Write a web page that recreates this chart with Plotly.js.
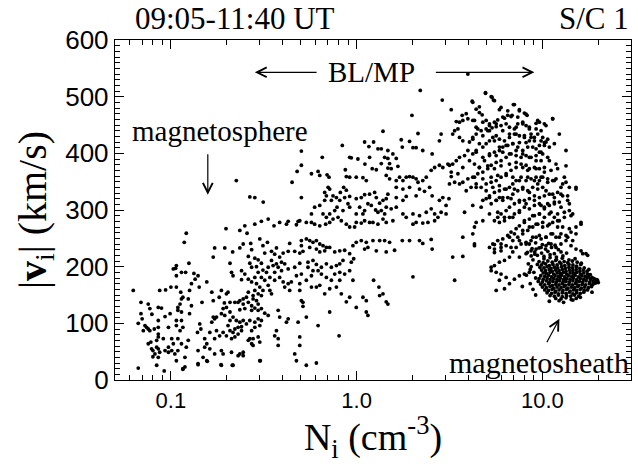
<!DOCTYPE html>
<html>
<head>
<meta charset="utf-8">
<script src="https://cdn.plot.ly/plotly-3.0.1.min.js"></script>
<style>html,body{margin:0;padding:0;background:#fff;}#chart{width:638px;height:464px;}</style>
</head>
<body>
<div id="chart"></div>
<script>
// Ion density N_i (cm^-3) and ion speed |v_i| (km/s)
// Low-density (magnetosphere side) points
const lowDensityPoints = [
[0.198,267],[0.250,272],[0.283,275],[0.307,280],[0.385,278],[0.419,275],[0.428,280],[0.474,274],[0.484,280],[0.359,272],[0.235,264],[0.257,259],[0.121,259],[0.118,243],[0.172,233],[0.195,233],[0.215,226],[0.235,233],[0.245,240],[0.269,241],[0.301,249],[0.313,237],[0.331,243],[0.370,233],[0.436,241],[0.504,246],[0.504,237],[0.428,227],[0.464,227],[0.494,224],[0.514,227],[0.272,230],[0.169,217],[0.208,206],[0.261,218],[0.283,215],[0.295,212],[0.307,206],[0.320,224],[0.348,227],[0.362,222],[0.385,217],[0.394,208],[0.402,224],[0.410,205],[0.348,211],[0.355,202],[0.370,205],[0.378,199],[0.334,199],[0.327,190],[0.313,194],[0.289,200],[0.266,206],[0.272,199],[0.295,190],[0.362,190],[0.394,193],[0.428,196],[0.464,199],[0.494,206],[0.504,187],[0.474,184],[0.445,173],[0.494,170],[0.362,176],[0.385,181],[0.341,181],[0.307,181],[0.320,176],[0.283,181],[0.261,178],[0.250,187],[0.240,177],[0.216,184],[0.212,190],[0.240,193],[0.272,173],[0.289,170],[0.301,164],[0.313,158],[0.334,167],[0.341,158],[0.348,152],[0.402,173],[0.410,164],[0.428,170],[0.436,158],[0.494,158],[0.504,140],[0.514,137],[0.514,130],[0.283,158],[0.261,155],[0.255,146],[0.245,143],[0.235,140],[0.230,137],[0.245,134],[0.261,137],[0.277,143],[0.289,140],[0.295,134],[0.307,149],[0.295,152],[0.277,149],[0.272,131],[0.283,127],[0.295,123],[0.307,126],[0.320,118],[0.334,114],[0.272,123],[0.250,126],[0.235,124],[0.221,137],[0.208,137],[0.203,155],[0.187,158],[0.182,146],[0.199,152],[0.194,136],[0.199,128],[0.191,126],[0.187,117],[0.195,114],[0.208,120],[0.216,111],[0.208,105],[0.203,96],[0.208,87],[0.216,84],[0.221,90],[0.230,93],[0.240,94],[0.235,102],[0.225,105],[0.245,105],[0.255,99],[0.266,105],[0.283,102],[0.295,108],[0.307,105],[0.301,96],[0.283,93],[0.272,87],[0.240,87],[0.230,81],[0.221,76],[0.212,73],[0.199,78],[0.191,84],[0.183,78],[0.176,87],[0.172,73],[0.169,111],[0.172,108],[0.166,102],[0.162,84],[0.152,73],[0.143,99],[0.145,90],[0.147,137],[0.142,164],[0.124,143],[0.129,131],[0.126,117],[0.156,173],[0.166,155],[0.169,140],[0.176,111],[0.378,123],[0.385,111],[0.370,87],[0.362,78],[0.378,73],[0.378,61],[0.428,108],[0.419,102],[0.484,102],[0.494,76],[0.494,61],[0.464,46],[0.474,34],[0.301,34],[0.266,73],[0.277,73],[0.295,76],[0.301,67],[0.277,61],[0.272,64],[0.261,70],[0.245,49],[0.235,46],[0.230,43],[0.245,43],[0.212,49],[0.187,52],[0.191,46],[0.187,26],[0.216,26],[0.172,46],[0.162,55],[0.156,64],[0.152,58],[0.149,40],[0.156,34],[0.140,29],[0.139,84],[0.140,52],[0.119,23],[0.116,20],[0.119,40],[0.121,58],[0.124,70],[0.114,64],[0.109,73],[0.109,52],[0.105,46],[0.101,52],[0.103,64],[0.101,73],[0.097,58],[0.097,49],[0.107,34],[0.093,52],[0.091,73],[0.0855,76],[0.0838,70],[0.078,67],[0.0755,64],[0.0787,55],[0.080,52],[0.082,46],[0.080,41],[0.0855,40],[0.087,49],[0.0838,58],[0.0855,55],[0.0755,90],[0.077,87],[0.074,93],[0.0725,96],[0.071,87],[0.0667,100],[0.070,108],[0.069,117],[0.0755,134],[0.077,126],[0.079,116],[0.0855,128],[0.089,127],[0.0855,105],[0.0855,93],[0.0855,81],[0.0814,90],[0.093,112],[0.097,93],[0.099,117],[0.107,105],[0.107,96],[0.112,87],[0.116,93],[0.114,105],[0.114,120],[0.112,134],[0.114,143],[0.113,155],[0.109,123],[0.107,164],[0.109,128],[0.116,146],[0.126,158],[0.129,170],[0.135,178],[0.133,188],[0.140,184],[0.125,206],[0.114,190],[0.120,190],[0.106,197],[0.107,202],[0.103,196],[0.107,184],[0.0936,159],[0.087,158],[0.100,164],[0.069,137],[0.0627,158],[0.0667,21],[0.0838,26],[0.092,16],[0.116,19],[0.140,27],[0.157,33],[0.186,27],[0.214,26],[0.303,34],[0.225,352],[0.266,323]
];
// Boundary layer / magnetopause, 0.3 - 3 cm^-3
const boundaryLayerPoints = [
[2.20,511],[2.89,494],[1.985,467],[1.386,439],[2.14,435],[2.85,434],[2.79,422],[2.01,410],[2.09,410],[2.27,405],[2.55,399],[0.837,414],[1.104,420],[1.164,412],[1.234,420],[1.302,408],[1.357,408],[1.473,405],[1.567,399],[1.738,424],[1.761,411],[1.927,421],[1.634,391],[1.415,393],[1.473,391],[1.504,382],[1.357,382],[1.174,393],[1.108,381],[1.016,390],[0.936,392],[0.917,393],[0.653,393],[0.504,404],[0.504,379],[0.478,368],[0.449,349],[0.620,368],[0.571,364],[0.633,361],[0.693,362],[0.710,358],[0.869,371],[0.880,359],[0.917,358],[0.995,358],[1.081,357],[1.127,352],[1.213,373],[1.276,371],[1.473,374],[1.535,373],[1.668,377],[1.443,361],[1.504,355],[1.634,352],[1.703,358],[1.775,352],[1.849,358],[1.927,359],[2.01,358],[2.09,355],[2.14,349],[2.27,352],[2.37,358],[2.52,370],[2.63,375],[2.79,379],[2.91,375],[3.10,381],[1.634,340],[1.775,337],[1.927,340],[2.18,337],[2.32,333],[2.47,340],[2.55,325],[2.79,317],[2.91,322],[3.14,320],[2.09,325],[1.849,324],[1.775,317],[1.634,322],[1.473,328],[1.443,320],[1.386,317],[1.330,312],[1.276,322],[1.250,331],[1.174,328],[1.104,327],[1.059,322],[0.995,320],[0.917,324],[0.880,335],[0.851,340],[0.817,331],[0.778,322],[0.746,325],[0.716,337],[0.702,340],[0.673,331],[0.687,325],[0.731,317],[0.811,317],[0.862,322],[0.673,317],[0.633,308],[0.594,305],[0.571,293],[0.659,293],[0.687,287],[0.716,293],[0.762,299],[0.784,305],[0.844,299],[0.898,311],[0.917,305],[0.995,293],[1.038,305],[1.081,293],[1.104,299],[1.150,311],[1.199,308],[1.265,300],[1.302,296],[1.357,299],[1.415,293],[1.443,305],[1.535,302],[1.634,305],[1.775,293],[1.849,287],[2.01,293],[2.18,290],[2.37,296],[2.52,302],[2.63,293],[2.85,296],[3.03,308],[3.03,293],[2.01,275],[2.09,278],[2.27,277],[2.42,278],[2.63,281],[2.74,287],[1.567,281],[1.443,278],[1.386,284],[1.302,275],[1.224,278],[1.174,278],[1.104,281],[1.059,277],[0.995,278],[0.975,270],[0.917,270],[0.880,275],[0.827,281],[0.794,287],[0.746,284],[0.716,278],[0.681,275],[0.633,272],[0.594,275],[0.571,278],[0.536,278],[0.494,281],[0.334,284],[0.314,314],[0.283,322],[0.504,322],[0.536,249],[0.559,246],[0.582,243],[0.607,246],[0.633,240],[0.659,237],[0.687,234],[0.716,234],[0.673,228],[0.633,226],[0.607,231],[0.559,234],[0.762,226],[0.811,228],[0.862,229],[0.917,223],[0.955,237],[0.995,243],[1.059,246],[1.127,243],[1.224,246],[1.330,246],[1.415,246],[1.504,243],[1.600,229],[1.443,226],[1.276,228],[1.150,234],[1.104,231],[0.964,214],[0.936,208],[0.844,211],[0.811,205],[0.778,202],[0.731,199],[0.687,205],[0.646,199],[0.607,204],[0.582,211],[0.547,208],[0.547,199],[0.582,193],[0.620,193],[0.646,187],[0.687,181],[0.731,176],[0.762,187],[0.811,190],[0.862,187],[0.917,193],[0.955,176],[0.811,176],[0.778,164],[0.716,161],[0.673,152],[0.633,167],[0.607,164],[0.571,164],[0.536,176],[0.571,184],[0.536,111],[0.536,26],[0.607,30],[0.620,96],[0.716,120],[0.804,78],[0.827,152],[0.880,138],[0.917,146],[0.995,128],[1.081,146],[1.127,140],[1.127,120],[1.150,114],[1.234,176],[1.318,164],[1.330,149],[1.386,152],[1.443,138],[1.473,134],[2.01,182],[2.18,246],[2.27,241],[2.55,231],[2.52,248],[1.927,246],[1.761,246]
];
// High-density side, 3 - 18 cm^-3
const highDensityPoints = [
[3.97,540],[4.94,507],[5.30,500],[5.45,494],[4.19,492],[3.23,477],[3.70,467],[3.89,470],[4.40,478],[4.58,472],[4.74,468],[5.87,477],[6.51,475],[6.98,486],[7.52,475],[8.00,471],[8.27,467],[7.37,464],[6.78,465],[6.25,462],[5.75,459],[5.52,455],[5.19,452],[4.98,458],[4.78,455],[4.22,458],[3.97,461],[3.73,458],[3.58,455],[3.44,456],[3.51,443],[3.37,440],[3.29,434],[3.58,428],[3.73,422],[4.05,420],[4.22,428],[4.40,434],[4.49,443],[4.68,440],[4.98,443],[5.19,440],[5.36,445],[5.64,447],[5.99,449],[6.38,452],[6.65,446],[7.07,443],[7.37,452],[7.84,455],[8.17,449],[8.51,443],[9.25,453],[9.64,455],[10.25,452],[11.36,461],[8.69,434],[9.06,428],[9.44,434],[9.84,422],[10.25,414],[10.46,420],[10.68,425],[10.04,428],[8.51,422],[8.00,428],[7.52,431],[7.07,434],[6.65,428],[6.25,422],[5.87,425],[5.64,431],[5.41,428],[5.19,422],[4.98,417],[4.78,411],[4.58,417],[4.40,405],[4.22,399],[3.97,405],[3.81,396],[3.58,393],[3.44,387],[3.29,381],[3.16,379],[3.23,367],[3.51,364],[3.73,375],[4.05,387],[4.31,381],[4.58,375],[4.88,387],[5.19,396],[5.52,402],[5.87,405],[6.12,411],[6.51,414],[6.93,417],[7.37,411],[7.84,405],[8.34,411],[8.87,411],[9.25,408],[9.64,402],[10.04,399],[10.68,393],[9.84,387],[9.25,387],[8.69,393],[8.17,396],[7.68,393],[7.22,396],[6.78,399],[6.38,393],[5.99,387],[5.64,384],[5.30,379],[5.08,373],[4.78,367],[4.49,364],[4.22,358],[3.97,355],[3.73,349],[3.58,346],[3.37,349],[3.16,346],[3.23,359],[3.89,334],[4.13,340],[4.40,346],[4.68,340],[4.98,346],[5.30,349],[5.64,352],[5.99,358],[6.38,364],[6.78,370],[7.22,375],[7.68,381],[8.17,379],[8.51,373],[9.06,375],[9.64,373],[10.25,367],[10.04,358],[9.64,352],[9.25,358],[8.69,355],[8.17,352],[7.68,358],[7.22,352],[6.93,346],[6.65,340],[6.25,337],[5.87,334],[5.52,331],[5.19,325],[4.98,320],[4.78,317],[5.30,311],[5.64,317],[5.87,322],[6.12,317],[6.51,322],[6.93,328],[7.37,334],[7.84,337],[8.34,334],[8.87,340],[9.44,346],[10.04,340],[10.68,349],[11.36,352],[11.84,355],[13.13,358],[13.40,349],[12.59,340],[12.08,331],[11.60,322],[10.90,328],[10.25,325],[9.64,322],[9.06,325],[8.51,320],[8.00,317],[7.52,314],[7.07,311],[6.65,305],[6.38,299],[5.99,293],[5.75,287],[5.52,281],[5.87,278],[6.25,281],[6.65,287],[7.07,293],[7.52,299],[8.00,305],[8.51,302],[9.06,308],[9.64,311],[10.25,305],[10.90,308],[11.60,311],[12.34,314],[12.86,325],[13.68,317],[15.17,340],[16.14,278],[14.56,293],[13.97,299],[13.13,287],[12.34,281],[11.60,287],[10.90,293],[10.25,287],[9.64,293],[9.06,290],[8.51,284],[8.00,278],[7.52,272],[7.22,267],[6.78,261],[6.51,255],[6.12,249],[5.75,246],[5.41,240],[5.19,234],[5.52,231],[5.99,234],[6.38,237],[6.93,246],[7.37,252],[7.84,258],[8.34,264],[8.87,270],[9.44,275],[10.04,270],[10.68,272],[11.36,278],[12.08,270],[12.59,258],[11.84,252],[11.13,258],[10.46,252],[9.84,249],[9.25,252],[8.69,246],[8.17,243],[7.68,240],[7.22,234],[6.93,226],[6.65,217],[6.25,211],[5.87,208],[5.52,202],[5.30,193],[5.64,190],[5.99,187],[6.38,181],[5.87,176],[6.25,161],[6.65,170],[7.07,178],[7.52,184],[8.00,187],[8.51,190],[7.52,217],[8.17,223],[8.69,228],[9.25,231],[9.84,234],[10.46,237],[11.13,240],[11.84,234],[12.59,240],[13.40,246],[14.26,237],[15.17,231],[16.14,228],[17.17,223],[13.68,252],[14.26,261],[15.17,270],[3.29,217],[3.73,218],[3.37,176],[3.81,296],[4.40,278],[4.22,258],[3.73,252],[4.31,240],[5.30,199],[5.64,158]
];
// Further high-density points read from a closer view (4 - 17 cm^-3, 220 - 510 km/s)
const highDensityExtraPoints = [
[4.94,506],[5.36,499],[5.52,493],[4.22,490],[4.58,482],[5.99,481],[7.07,486],[7.52,477],[6.51,467],[6.87,467],[6.12,464],[8.17,469],[9.44,458],[11.36,461],[7.84,452],[7.22,446],[8.51,446],[9.25,443],[4.31,458],[4.40,446],[5.19,449],[5.64,452],[5.08,440],[6.12,440],[6.65,434],[7.22,434],[8.00,431],[8.69,428],[9.84,440],[10.46,449],[12.34,434],[4.22,425],[4.78,431],[5.52,422],[5.87,411],[6.38,414],[6.93,417],[7.52,419],[8.17,419],[9.06,422],[9.64,414],[10.25,419],[10.90,411],[11.60,417],[13.40,405],[4.40,402],[4.78,393],[5.19,399],[5.64,396],[6.12,402],[6.65,399],[7.22,405],[7.84,399],[8.51,393],[9.25,396],[9.84,402],[10.90,387],[11.84,381],[4.58,375],[5.08,378],[5.52,373],[5.99,378],[6.65,381],[7.22,384],[7.84,375],[8.34,370],[9.25,373],[10.25,375],[11.13,370],[12.08,373],[13.40,378],[4.31,358],[4.78,355],[5.30,358],[5.75,361],[6.38,361],[6.93,358],[7.52,352],[8.34,358],[9.06,352],[9.84,358],[10.68,355],[11.60,352],[12.86,346],[13.97,340],[15.17,337],[4.40,340],[4.98,334],[5.41,340],[5.87,343],[6.38,337],[7.07,337],[7.84,340],[8.51,331],[9.44,337],[10.46,334],[11.36,328],[12.60,328],[13.68,325],[4.22,308],[4.68,305],[5.19,322],[5.64,317],[6.12,322],[6.78,320],[7.52,317],[8.17,311],[9.06,317],[9.84,308],[10.68,311],[11.60,314],[12.60,305],[13.97,311],[4.31,270],[4.78,281],[5.19,293],[5.75,296],[6.25,287],[6.93,287],[7.52,296],[8.00,281],[8.87,290],[9.64,293],[10.25,302],[11.13,296],[12.08,293],[13.13,296],[14.26,290],[16.14,275],[4.31,237],[5.52,239],[5.99,240],[6.65,252],[7.07,258],[7.84,264],[8.51,270],[9.25,275],[10.04,278],[10.90,275],[12.08,281],[12.86,270],[13.97,267],[15.17,258],[5.52,225],[5.99,228],[6.78,234],[7.52,246],[8.17,240],[8.87,252],[9.64,255],[10.46,252],[11.36,258],[12.34,252],[13.40,255],[14.56,246],[16.48,223],[17.53,220]
];
// Magnetosheath cluster, ~9 - 20 cm^-3, 140 - 240 km/s
const sheathPoints = [
[8.5,240],[9.2,242],[10.0,239],[10.8,241],[11.7,238],[8.8,232],[9.6,233],[10.4,231],[11.2,234],[12.2,230],[8.3,225],[9.1,226],[9.9,224],[10.7,227],[11.6,223],[12.6,226],[13.5,224],[8.7,219],[9.4,220],[10.2,218],[11.0,221],[11.9,217],[12.9,219],
[10.2,214],[11.0,216],[11.9,213],[12.8,215],[13.9,212],[15.0,214],
[9.6,209],[10.1,207],[10.7,210],[11.3,208],[11.8,211],[12.4,208],[13.1,209],[13.7,207],[14.5,210],[15.4,208],[16.2,206],
[9.4,204],[9.9,203],[10.4,205],[10.9,202],[11.4,204],[12.0,203],[12.6,205],[13.2,202],[13.9,204],[14.6,203],[15.3,201],[16.1,204],
[9.7,199],[10.2,198],[10.6,200],[11.1,197],[11.6,199],[12.1,198],[12.7,200],[13.3,197],[13.9,199],[14.5,198],[15.2,200],[15.9,197],[16.8,198],
[9.9,194],[10.4,193],[10.9,195],[11.3,192],[11.8,194],[12.3,193],[12.8,195],[13.4,192],[14.0,194],[14.6,193],[15.2,195],[15.9,192],[16.6,194],[17.4,192],
[10.1,189],[10.5,188],[11.0,190],[11.5,187],[12.0,189],[12.5,188],[13.0,190],[13.5,187],[14.1,189],[14.7,188],[15.3,190],[16.0,187],[16.7,189],[17.5,187],[18.1,186],
[9.8,184],[10.3,183],[10.8,185],[11.2,182],[11.7,184],[12.2,183],[12.7,185],[13.2,182],[13.8,184],[14.4,183],[15.0,185],[15.6,182],[16.3,184],[17.0,183],[17.7,182],[18.5,181],
[9.6,179],[10.1,178],[10.6,180],[11.0,177],[11.5,179],[12.0,178],[12.5,180],[13.0,177],[13.5,179],[14.1,178],[14.7,180],[15.3,177],[16.0,179],[16.7,178],[17.4,180],[18.2,178],[19.0,179],[19.6,177],
[9.5,174],[10.0,173],[10.5,175],[10.9,172],[11.4,174],[11.9,173],[12.4,175],[12.9,172],[13.4,174],[14.0,173],[14.6,175],[15.2,172],[15.8,174],[16.5,173],[17.2,175],[18.0,173],[18.8,174],[19.6,173],
[9.8,169],[10.3,168],[10.8,170],[11.3,167],[11.8,169],[12.3,168],[12.8,170],[13.3,167],[13.9,169],[14.5,168],[15.1,170],[15.7,167],[16.4,169],[17.1,168],[17.9,170],[18.7,169],[19.3,171],
[10.0,164],[10.5,163],[11.0,165],[11.5,162],[12.0,164],[12.6,163],[13.1,165],[13.7,162],[14.3,164],[14.9,163],[15.5,165],[16.2,162],[16.9,164],[17.7,163],[18.4,165],
[10.3,159],[10.8,158],[11.3,160],[11.8,157],[12.3,159],[12.9,158],[13.5,160],[14.1,157],[14.7,159],[15.3,158],[16.0,160],[16.8,158],[17.5,159],
[10.6,154],[11.2,153],[11.7,155],[12.2,152],[12.8,154],[13.4,153],[14.0,155],[14.6,152],[15.3,154],[16.0,153],[16.7,155],
[11.0,149],[11.6,148],[12.2,150],[12.8,147],[13.5,149],[14.2,148],[14.9,150],[15.7,148],
[11.8,144],[12.6,143],[13.4,145],[14.3,142],[15.2,144],
[10.9,139],[12.3,140],[14.6,141],[16.0,146],[8.9,160],[8.6,170],[9.2,150],[7.8,165],[8.2,185],[18.5,155],[19.8,176],[20.0,172],[13.0,137],[17.8,195],[9.0,190],[8.7,200],[8.4,205],[8.9,212],[9.1,222],[8.6,195],[9.2,180]
];

const xTickVals = [0.1, 1, 10];
const xTickText = ['0.1', '1.0', '10.0'];
const xMinorVals = [0.06,0.07,0.08,0.09,0.2,0.3,0.4,0.5,0.6,0.7,0.8,0.9,2,3,4,5,6,7,8,9,20];
const yTickVals = [0, 100, 200, 300, 400, 500, 600];

const groups = [lowDensityPoints, boundaryLayerPoints, highDensityPoints, highDensityExtraPoints, sheathPoints];
const traces = groups.map(g => ({
  type: 'scatter', mode: 'markers',
  x: g.map(p => p[0]), y: g.map(p => p[1]),
  marker: {color: '#000', size: 3.8, line: {width: 0}},
  hoverinfo: 'skip', showlegend: false, cliponaxis: true
}));

const serif = 'Liberation Serif, Times New Roman, serif';
const sans = 'Liberation Sans, Arial, sans-serif';
const L = Math.log10;

const layout = {
  width: 638, height: 464,
  margin: {l: 115, r: 7, t: 40, b: 84, pad: 0},
  paper_bgcolor: '#fff', plot_bgcolor: '#fff',
  showlegend: false,
  xaxis: {
    type: 'log', range: [L(0.05), L(30)],
    tickmode: 'array', tickvals: xTickVals, ticktext: xTickText,
    ticks: 'inside', ticklen: 9, tickwidth: 1, tickcolor: '#000',
    showline: true, linecolor: '#000', linewidth: 1.2, mirror: 'ticks',
    showgrid: false, zeroline: false,
    tickfont: {family: sans, size: 22, color: '#000'},
    minor: {tickmode: 'array', tickvals: xMinorVals, ticks: 'inside', ticklen: 5, tickwidth: 1, tickcolor: '#000', showgrid: false},
    title: {text: 'N<sub>i</sub> (cm<sup>-3</sup>)', font: {family: serif, size: 38, color: '#000'}, standoff: 4}
  },
  yaxis: {
    range: [0, 600],
    tickmode: 'array', tickvals: yTickVals,
    ticks: 'inside', ticklen: 9, tickwidth: 1, tickcolor: '#000',
    showline: true, linecolor: '#000', linewidth: 1.2, mirror: 'ticks',
    showgrid: false, zeroline: false,
    tickfont: {family: sans, size: 26, color: '#000'},
    minor: {dtick: 10, tick0: 0, ticks: 'inside', ticklen: 5, tickwidth: 1, tickcolor: '#000', showgrid: false},
    title: {text: '|<b>v</b><sub>i</sub>| (km/s)', font: {family: serif, size: 40, color: '#000'}, standoff: 6}
  },
  annotations: [
    {xref: 'paper', yref: 'paper', x: 0.035, y: 1, xanchor: 'left', yanchor: 'middle', yshift: 22, showarrow: false,
     text: '09:05-11:40 UT', font: {family: serif, size: 31, color: '#000'}},
    {xref: 'paper', yref: 'paper', x: 1, y: 1, xanchor: 'right', yanchor: 'middle', yshift: 22, showarrow: false,
     text: 'S/C 1', font: {family: serif, size: 31, color: '#000'}},
    {xref: 'x', yref: 'y', x: L(1.20), y: 543, showarrow: false, text: 'BL/MP',
     font: {family: serif, size: 29, color: '#000'}},
    {xref: 'x', yref: 'y', x: L(0.283), y: 543, axref: 'x', ayref: 'y', ax: L(0.62), ay: 543, text: '',
     showarrow: true, arrowhead: 5, arrowsize: 1.6, arrowwidth: 1.2, arrowcolor: '#000'},
    {xref: 'x', yref: 'y', x: L(9.06), y: 543, axref: 'x', ayref: 'y', ax: L(2.62), ay: 543, text: '',
     showarrow: true, arrowhead: 5, arrowsize: 1.6, arrowwidth: 1.2, arrowcolor: '#000'},
    {xref: 'x', yref: 'y', x: L(0.183), y: 440, showarrow: false, text: 'magnetosphere',
     font: {family: serif, size: 29, color: '#000'}},
    {xref: 'x', yref: 'y', x: L(0.158), y: 327, axref: 'x', ayref: 'y', ax: L(0.158), ay: 401, text: '',
     showarrow: true, arrowhead: 5, arrowsize: 1.6, arrowwidth: 1.2, arrowcolor: '#000'},
    {xref: 'paper', yref: 'y', x: 1, y: 31, xanchor: 'right', showarrow: false, text: 'magnetosheath',
     font: {family: serif, size: 30, color: '#000'}},
    {xref: 'x', yref: 'y', x: L(12.35), y: 108, axref: 'x', ayref: 'y', ax: L(10.47), ay: 64, text: '',
     showarrow: true, arrowhead: 5, arrowsize: 1.6, arrowwidth: 1.2, arrowcolor: '#000'}
  ]
};

Plotly.newPlot('chart', traces, layout, {staticPlot: true, displayModeBar: false});
</script>
</body>
</html>
